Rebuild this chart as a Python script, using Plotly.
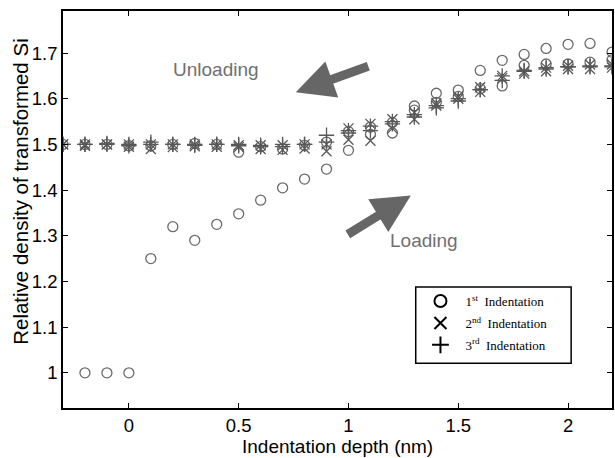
import plotly.graph_objects as go

# ---------------- data ----------------
depth_up = [-0.3, -0.2, -0.1, 0.0, 0.1, 0.2, 0.3, 0.4, 0.5, 0.6, 0.7, 0.8, 0.9,
            1.0, 1.1, 1.2, 1.3, 1.4, 1.5, 1.6, 1.7, 1.8, 1.9, 2.0, 2.1, 2.2]
depth_down = list(reversed(depth_up))

# 1st indentation (circles)
first_load_x = depth_up[1:]
first_load_y = [1.00, 1.00, 1.00, 1.25, 1.32, 1.29, 1.325, 1.348, 1.378, 1.405, 1.424,
                1.446, 1.487, 1.522, 1.525, 1.584, 1.612, 1.619, 1.662, 1.684, 1.697,
                1.710, 1.719, 1.721, 1.702]
first_unload_y = [1.685, 1.680, 1.676, 1.676, 1.673, 1.628, 1.622, 1.605, 1.592, 1.575,
                  1.548, 1.538, 1.528, 1.505, 1.498, 1.490, 1.495, 1.483, 1.500, 1.502,
                  1.500, 1.497, 1.497, 1.500, 1.500, 1.500]

# 2nd indentation (x)
second_load_y = [1.500, 1.497, 1.500, 1.495, 1.490, 1.494, 1.496, 1.495, 1.494, 1.490,
                 1.488, 1.491, 1.485, 1.510, 1.508, 1.535, 1.555, 1.585, 1.600, 1.615,
                 1.645, 1.655, 1.660, 1.665, 1.665, 1.668]
second_unload_y = [1.675, 1.675, 1.672, 1.668, 1.660, 1.650, 1.625, 1.605, 1.590, 1.570,
                   1.555, 1.545, 1.535, 1.500, 1.500, 1.498, 1.498, 1.498, 1.500, 1.500,
                   1.500, 1.500, 1.500, 1.500, 1.500, 1.500]

# 3rd indentation (+)
third_load_y = [1.500, 1.500, 1.502, 1.497, 1.505, 1.500, 1.498, 1.500, 1.497, 1.495,
                1.495, 1.500, 1.520, 1.525, 1.530, 1.545, 1.560, 1.580, 1.595, 1.620,
                1.640, 1.660, 1.665, 1.670, 1.670, 1.670]
third_unload_y = [1.672, 1.672, 1.670, 1.668, 1.662, 1.650, 1.620, 1.600, 1.585, 1.565,
                  1.550, 1.540, 1.530, 1.505, 1.500, 1.500, 1.498, 1.500, 1.500, 1.500,
                  1.500, 1.500, 1.500, 1.500, 1.500, 1.500]

legend_names = ["1<sup>st</sup>  Indentation", "2<sup>nd</sup>  Indentation",
                "3<sup>rd</sup>  Indentation"]
x_ticks = [0, 0.5, 1, 1.5, 2]
x_tick_text = ["0", "0.5", "1", "1.5", "2"]
y_ticks = [1.0, 1.1, 1.2, 1.3, 1.4, 1.5, 1.6, 1.7]
y_tick_text = ["1", "1.1", "1.2", "1.3", "1.4", "1.5", "1.6", "1.7"]

# ---------------- figure ----------------
fig = go.Figure()

circle_col = "#6a6a6a"
x_col = "#585858"
plus_col = "#585858"

def add_series(xs, ys, symbol, color, size):
    fig.add_trace(go.Scatter(
        x=xs, y=ys, mode="markers", showlegend=False, hoverinfo="skip",
        marker=dict(symbol=symbol, size=size, color=color,
                    line=dict(color=color, width=1.3))))

add_series(first_load_x, first_load_y, "circle-open", circle_col, 10)
add_series(depth_down, first_unload_y, "circle-open", circle_col, 10)
add_series(depth_up, second_load_y, "x-thin-open", x_col, 10)
add_series(depth_down, second_unload_y, "x-thin-open", x_col, 10)
add_series(depth_up, third_load_y, "cross-thin-open", plus_col, 11)
add_series(depth_down, third_unload_y, "cross-thin-open", plus_col, 11)

for i, (name, sym) in enumerate(zip(legend_names, ["circle-open", "x-thin-open", "cross-thin-open"])):
    fig.add_trace(go.Scatter(
        x=[None], y=[None], mode="markers", name=name, legendgroup=f"g{i}",
        marker=dict(symbol=sym, size=12, color="black",
                    line=dict(color="black", width=2))))

arrow_col = "#666666"
fig.add_annotation(x=0.76, y=1.614, ax=1.097, ay=1.672, xref="x", yref="y",
                   axref="x", ayref="y", text="", showarrow=True,
                   arrowhead=2, arrowsize=0.85, arrowwidth=9, arrowcolor=arrow_col)
fig.add_annotation(x=1.284, y=1.388, ax=0.99, ay=1.301, xref="x", yref="y",
                   axref="x", ayref="y", text="", showarrow=True,
                   arrowhead=2, arrowsize=0.85, arrowwidth=9, arrowcolor=arrow_col)
fig.add_annotation(x=0.398, y=1.665, xref="x", yref="y", text="Unloading",
                   showarrow=False, font=dict(family="Liberation Sans", size=19, color="#707070"))
fig.add_annotation(x=1.346, y=1.29, xref="x", yref="y", text="Loading",
                   showarrow=False, font=dict(family="Liberation Sans", size=19, color="#707070"))

# axis titles
fig.add_annotation(x=0.5, y=-0.097, xref="paper", yref="paper", text="Indentation depth (nm)",
                   showarrow=False, xanchor="center", yanchor="middle",
                   font=dict(family="Liberation Sans", size=19, color="black"))
fig.add_annotation(x=-0.078, y=0.545, xref="paper", yref="paper",
                   text="Relative density of transformed Si", textangle=-90,
                   showarrow=False, xanchor="center", yanchor="middle",
                   font=dict(family="Liberation Sans", size=20.5, color="black"))

# legend frame
fig.add_shape(type="rect", xref="paper", yref="paper", x0=0.6425, x1=0.9256,
              y0=0.113, y1=0.305, line=dict(color="black", width=1.5),
              fillcolor="white", layer="above")

axis_common = dict(showline=True, linecolor="black", linewidth=1.5, mirror="ticks",
                   ticks="inside", ticklen=5, tickwidth=1.2, tickcolor="black",
                   showgrid=False, zeroline=False,
                   tickfont=dict(family="Liberation Sans", size=18.5, color="black"))

fig.update_xaxes(range=[-0.3, 2.2], tickvals=x_ticks, ticktext=x_tick_text, **axis_common)
fig.update_yaxes(range=[0.923, 1.792], tickvals=y_ticks, ticktext=y_tick_text, **axis_common)

fig.update_layout(
    width=615, height=458,
    margin=dict(l=63, r=1, t=11, b=50),
    paper_bgcolor="white", plot_bgcolor="white",
    legend=dict(x=0.642, y=0.307, xanchor="left", yanchor="top",
                borderwidth=0, bgcolor="rgba(0,0,0,0)",
                font=dict(family="Liberation Serif", size=13, color="black"),
                itemwidth=40, tracegroupgap=2),
)

fig.write_html("out.html")
